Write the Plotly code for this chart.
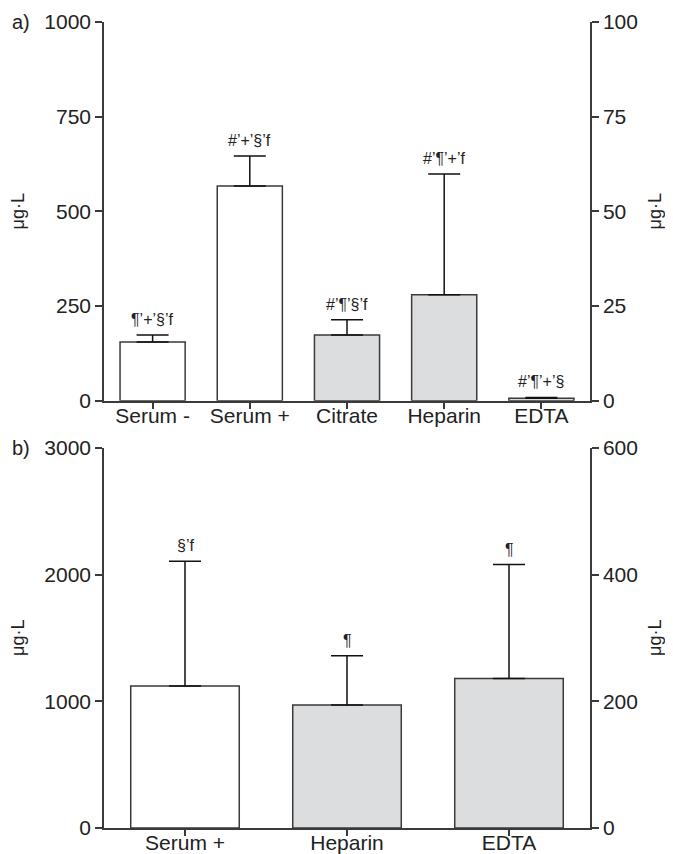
import plotly.graph_objects as go

# Panel a
cats_a = ["Serum -", "Serum +", "Citrate", "Heparin", "EDTA"]
vals_a = [155, 567, 174, 280, 7]
err_a = [19, 79, 40, 319, 2]
fill_a = ["white", "white", "#dcdddf", "#dcdddf", "#dcdddf"]
lab_a = ["¶’+’§’f", "#’+’§’f", "#’¶’§’f", "#’¶’+’f", "#’¶’+’§"]
yticks_a = [0, 250, 500, 750, 1000]
yticks_a2 = [0, 25, 50, 75, 100]

# Panel b
cats_b = ["Serum +", "Heparin", "EDTA"]
vals_b = [1120, 970, 1180]
err_b = [985, 390, 900]
fill_b = ["white", "#dcdddf", "#dcdddf"]
lab_b = ["§’f", "¶", "¶"]
yticks_b = [0, 1000, 2000, 3000]
yticks_b2 = [0, 200, 400, 600]

FONT = "Liberation Sans, Arial, sans-serif"
LC = "#3a3a3a"
TXT = "#222222"

fig = go.Figure()
fig.add_trace(go.Bar(
    x=cats_a, y=vals_a, width=0.67, xaxis="x", yaxis="y",
    marker=dict(color=fill_a, line=dict(color=LC, width=1.5)),
    error_y=dict(type="data", symmetric=False, array=err_a, arrayminus=[0]*5,
                 color="#111", thickness=1.5, width=16),
    showlegend=False, hoverinfo="skip"))
fig.add_trace(go.Bar(
    x=cats_b, y=vals_b, width=0.67, xaxis="x2", yaxis="y3",
    marker=dict(color=fill_b, line=dict(color=LC, width=1.5)),
    error_y=dict(type="data", symmetric=False, array=err_b, arrayminus=[0]*3,
                 color="#111", thickness=1.5, width=16),
    showlegend=False, hoverinfo="skip"))
fig.add_trace(go.Scatter(x=[], y=[], xaxis="x", yaxis="y2", showlegend=False))
fig.add_trace(go.Scatter(x=[], y=[], xaxis="x2", yaxis="y4", showlegend=False))

afont = dict(size=16, color=TXT, family=FONT)
ann = []
for c, v, e, t in zip(cats_a, vals_a, err_a, lab_a):
    ann.append(dict(x=c, y=v + e, xref="x", yref="y", text=t, showarrow=False,
                    yanchor="bottom", yshift=5, font=afont))
for c, v, e, t in zip(cats_b, vals_b, err_b, lab_b):
    ann.append(dict(x=c, y=v + e, xref="x2", yref="y3", text=t, showarrow=False,
                    yanchor="bottom", yshift=5, font=afont))

lfont = dict(size=20, color=TXT, family=FONT)
for txt, yref in [("a)", "y domain"), ("b)", "y3 domain")]:
    ann.append(dict(x=0, y=1, xref="paper", yref=yref, text=txt, showarrow=False,
                    xanchor="center", yanchor="middle", xshift=-83, font=lfont))
tfont = dict(size=18, color=TXT, family=FONT)
for xref, yref, sh in [("x domain", "y domain", -86), ("x domain", "y domain", 551),
                       ("x2 domain", "y3 domain", -86), ("x2 domain", "y3 domain", 551)]:
    ann.append(dict(x=0, y=0.5, xref=xref, yref=yref, text="μg·L", showarrow=False,
                    textangle=-90, xanchor="center", yanchor="middle", xshift=sh, font=tfont))

axcommon = dict(showline=True, linecolor=LC, linewidth=1.5, ticks="outside",
                tickcolor=LC, tickwidth=1.5, showgrid=False, zeroline=False,
                automargin=False, tickfont=dict(size=21, color=TXT, family=FONT))
xcommon = dict(ticklen=6, ticklabelstandoff=-11, **axcommon)
ycommon = dict(ticklen=7, **axcommon)

fig.update_layout(
    width=665, height=846,
    margin=dict(l=96, r=83, t=14, b=26),
    paper_bgcolor="white", plot_bgcolor="white",
    font=dict(family=FONT, color=TXT),
    annotations=ann,
    xaxis=dict(domain=[0, 1], anchor="y", range=[-0.5, 4.5], **xcommon),
    xaxis2=dict(domain=[0, 1], anchor="y3", range=[-0.5, 2.5], **xcommon),
    yaxis=dict(domain=[0.53, 1], anchor="x", range=[0, 1000], tickvals=yticks_a, **ycommon),
    yaxis2=dict(overlaying="y", side="right", anchor="x", range=[0, 100], tickvals=yticks_a2, **ycommon),
    yaxis3=dict(domain=[0, 0.4715], anchor="x2", range=[0, 3000], tickvals=yticks_b, **ycommon),
    yaxis4=dict(overlaying="y3", side="right", anchor="x2", range=[0, 600], tickvals=yticks_b2, **ycommon),
)
fig.write_html("out.html")
